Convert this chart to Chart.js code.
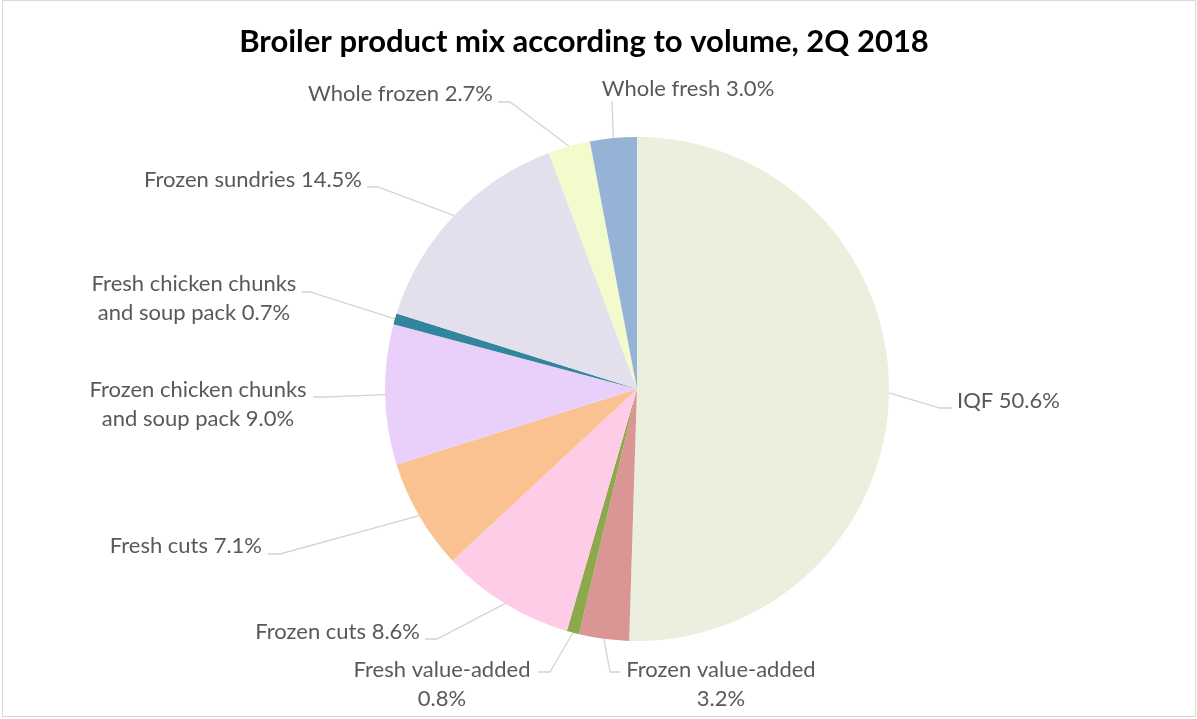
<!DOCTYPE html>
<html>
<head>
<meta charset="utf-8">
<script src="https://cdn.jsdelivr.net/npm/chart.js@4.4.1/dist/chart.umd.min.js"></script>
<style>
  html, body { margin: 0; padding: 0; background: #ffffff; }
  #wrap { position: relative; width: 1197px; height: 719px; }
</style>
</head>
<body>
<div id="wrap"><canvas id="c" width="1197" height="719"></canvas></div>
<script>
const chartTitle = 'Broiler product mix according to volume, 2Q 2018';
const categories = [
  'IQF', 'Frozen value-added', 'Fresh value-added', 'Frozen cuts', 'Fresh cuts',
  'Frozen chicken chunks and soup pack', 'Fresh chicken chunks and soup pack',
  'Frozen sundries', 'Whole frozen', 'Whole fresh'
];
const shares = [50.6, 3.2, 0.8, 8.6, 7.1, 9.0, 0.7, 14.5, 2.7, 3.0];
const labelLines = [
  ['IQF 50.6%'],
  ['Frozen value-added', '3.2%'],
  ['Fresh value-added', '0.8%'],
  ['Frozen cuts 8.6%'],
  ['Fresh cuts 7.1%'],
  ['Frozen chicken chunks', 'and soup pack 9.0%'],
  ['Fresh chicken chunks', 'and soup pack 0.7%'],
  ['Frozen sundries 14.5%'],
  ['Whole frozen 2.7%'],
  ['Whole fresh 3.0%']
];
const sliceColors = [
  '#EBEFDE', '#D99694', '#8EA84E', '#FFCCE7', '#F9C290',
  '#E9D0FA', '#31859C', '#E4DFEC', '#F3FACB', '#95B3D7'
];

// label layout (offsets from pie centre): leader points from slice outwards, text anchor
const labelLayout = [
  { leader: [[303, 19], [315, 19]], tx: 320, ty: 19, align: 'left' },
  { leader: [[-27, 283], [-17, 283]], tx: 84, ty: 288, align: 'center' },
  { leader: [[-87, 283], [-99, 283]], tx: -195, ty: 288, align: 'center' },
  { leader: [[-200, 250], [-212, 250]], tx: -217, ty: 250, align: 'right' },
  { leader: [[-357, 165], [-369, 165]], tx: -375, ty: 164, align: 'right' },
  { leader: [[-312, 8], [-324, 8]], tx: -439, ty: 8, align: 'center' },
  { leader: [[-327, -97], [-335, -97]], tx: -443, ty: -98, align: 'center' },
  { leader: [[-259, -202], [-270, -202]], tx: -275, ty: -202, align: 'right' },
  { leader: [[-127, -287], [-139, -287]], tx: -144, ty: -288, align: 'right' },
  { leader: [[-25, -288]], tx: 51, ty: -293, align: 'center' }
];
const labelFont = '22px Lato';
const labelColor = '#595959';
const leaderColor = '#D4D4D4';
const lineHeight = 29;

const decorPlugin = {
  id: 'decor',
  afterDatasetsDraw(chart) {
    const ctx = chart.ctx;
    const meta = chart.getDatasetMeta(0);
    ctx.save();
    // frame
    ctx.strokeStyle = '#D9D9D9';
    ctx.lineWidth = 1;
    ctx.strokeRect(2.5, 0.5, 1193, 716);
    // title
    ctx.fillStyle = '#000000';
    ctx.font = 'bold 31px Lato';
    ctx.textAlign = 'center';
    ctx.textBaseline = 'alphabetic';
    ctx.fillText(chartTitle, 584, 52);
    // labels
    meta.data.forEach((arc, i) => {
      const lay = labelLayout[i];
      const cx = arc.x, cy = arc.y;
      const mid = (arc.startAngle + arc.endAngle) / 2;
      const r = arc.outerRadius;
      const px = cx + Math.cos(mid) * r;
      const py = cy + Math.sin(mid) * r;
      ctx.strokeStyle = leaderColor;
      ctx.lineWidth = 1.3;
      ctx.beginPath();
      ctx.moveTo(px, py);
      lay.leader.forEach(p => ctx.lineTo(cx + p[0], cy + p[1]));
      ctx.stroke();
      ctx.fillStyle = labelColor;
      ctx.font = labelFont;
      ctx.textAlign = lay.align;
      ctx.textBaseline = 'alphabetic';
      labelLines[i].forEach((t, k) => {
        ctx.fillText(t, cx + lay.tx, cy + lay.ty + k * lineHeight);
      });
    });
    ctx.restore();
  }
};

new Chart(document.getElementById('c'), {
  type: 'pie',
  data: {
    labels: categories,
    datasets: [{
      data: shares,
      backgroundColor: sliceColors,
      borderWidth: 0,
      hoverOffset: 0,
      offset: 0
    }]
  },
  options: {
    responsive: false,
    animation: false,
    events: [],
    layout: { padding: { left: 385, right: 308, top: 137, bottom: 78 } },
    plugins: {
      legend: { display: false },
      tooltip: { enabled: false },
      title: { display: false }
    }
  },
  plugins: [decorPlugin]
});
</script>
</body>
</html>
